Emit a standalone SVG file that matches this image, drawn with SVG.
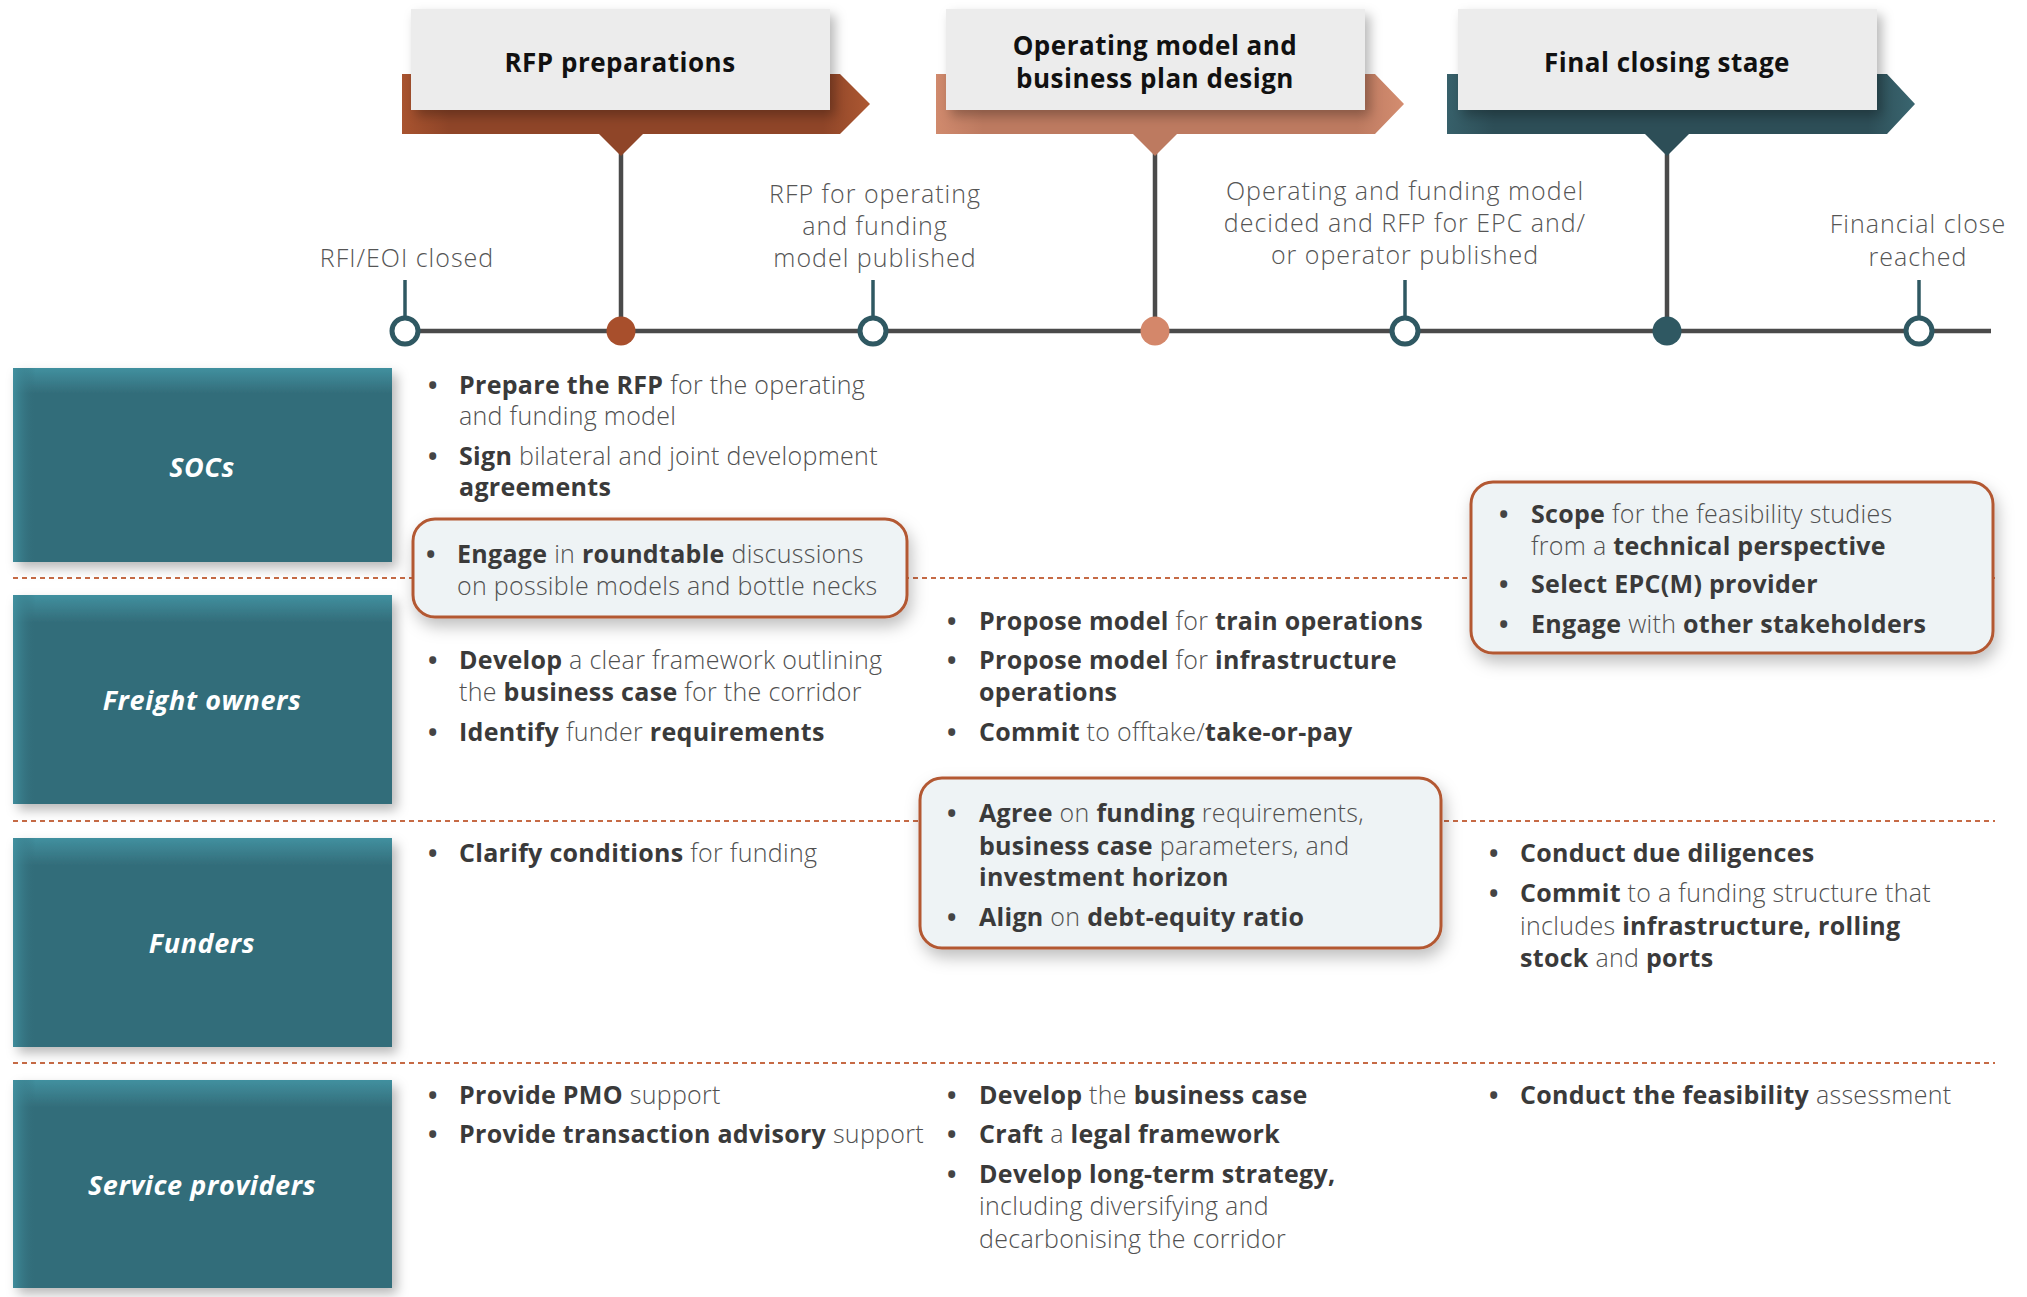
<svg xmlns="http://www.w3.org/2000/svg" width="2027" height="1297" viewBox="0 0 2027 1297">
<defs>
<filter id="sh" x="-10%" y="-10%" width="130%" height="140%"><feDropShadow dx="5" dy="6" stdDeviation="6" flood-color="#000" flood-opacity="0.28"/></filter>
<filter id="sh2" x="-10%" y="-10%" width="130%" height="140%"><feDropShadow dx="3" dy="8" stdDeviation="8" flood-color="#000" flood-opacity="0.25"/></filter>
<linearGradient id="roleG" x1="0" y1="0" x2="0" y2="1"><stop offset="0" stop-color="#41909f"/><stop offset="0.13" stop-color="#336d7a"/><stop offset="1" stop-color="#336d7a"/></linearGradient>
<linearGradient id="roleL" x1="0" y1="0" x2="1" y2="0"><stop offset="0" stop-color="#41909f" stop-opacity="0.9"/><stop offset="0.06" stop-color="#336d7a" stop-opacity="0"/><stop offset="1" stop-color="#336d7a" stop-opacity="0"/></linearGradient>
<linearGradient id="bandR" x1="0" y1="0" x2="1" y2="0"><stop offset="0" stop-color="#a8532f"/><stop offset="0.1" stop-color="#8f4528"/><stop offset="0.9" stop-color="#8f4528"/><stop offset="1" stop-color="#ad5832"/></linearGradient>
<linearGradient id="bandO" x1="0" y1="0" x2="1" y2="0"><stop offset="0" stop-color="#d08a6d"/><stop offset="0.1" stop-color="#bd7a60"/><stop offset="0.9" stop-color="#bd7a60"/><stop offset="1" stop-color="#d48d70"/></linearGradient>
<linearGradient id="bandF" x1="0" y1="0" x2="1" y2="0"><stop offset="0" stop-color="#37606a"/><stop offset="0.1" stop-color="#2d4e57"/><stop offset="0.9" stop-color="#2d4e57"/><stop offset="1" stop-color="#3a6670"/></linearGradient>
<style>
.t{font-family:"Open Sans","Liberation Sans",sans-serif;font-size:25px;font-weight:300;fill:#505050;letter-spacing:0.3px}
.b{font-weight:700;fill:#3a3a3a}
.bu{font-family:"Open Sans","Liberation Sans",sans-serif;font-size:25px;font-weight:700;fill:#444}
.ttl{font-family:"Open Sans","Liberation Sans",sans-serif;font-size:26px;font-weight:700;fill:#111;text-anchor:middle;letter-spacing:0.5px}
.lab{font-family:"Open Sans","Liberation Sans",sans-serif;font-size:27px;font-weight:700;font-style:italic;fill:#fff;text-anchor:middle;letter-spacing:0.6px}
.ml{font-family:"Open Sans","Liberation Sans",sans-serif;font-size:25px;font-weight:300;fill:#555;text-anchor:middle;letter-spacing:1px}
.gray{fill:#ececec}
.role{fill:url(#roleG)}
.hl{fill:#eef3f5;stroke:#b35833;stroke-width:3}
.sep{stroke:#c66a45;stroke-width:2;stroke-dasharray:5 4;fill:none}
.tl{stroke:#4a4a4a;stroke-width:4.5;fill:none}
.tick{stroke:#2f5862;stroke-width:3.5}
.oc{fill:#fff;stroke:#2f5862;stroke-width:5}
</style>
</defs>
<rect width="2027" height="1297" fill="#fff"/>

<g id="separators">
<line class="sep" x1="13" y1="578" x2="1995" y2="578"/>
<line class="sep" x1="13" y1="821" x2="1995" y2="821"/>
<line class="sep" x1="13" y1="1063" x2="1995" y2="1063"/>
</g>

<g id="connectors">
<line class="tl" x1="405" y1="331" x2="1991" y2="331"/>
<line class="tl" x1="621" y1="150" x2="621" y2="331"/>
<line class="tl" x1="1155" y1="150" x2="1155" y2="331"/>
<line class="tl" x1="1667" y1="150" x2="1667" y2="331"/>
<line class="tick" x1="405" y1="280" x2="405" y2="318"/>
<line class="tick" x1="873" y1="280" x2="873" y2="318"/>
<line class="tick" x1="1405" y1="280" x2="1405" y2="318"/>
<line class="tick" x1="1919" y1="280" x2="1919" y2="318"/>
</g>

<g id="phase-rfp">
<path d="M402 74 H840 L870 104 L840 134 H643 L621 156 L599 134 H402 Z" fill="url(#bandR)"/>
<rect class="gray" x="411" y="9" width="419" height="101" filter="url(#sh)"/>
<text class="ttl" x="620" y="72">RFP preparations</text>
</g>
<g id="phase-operating">
<path d="M936 74 H1375 L1404 104 L1375 134 H1177 L1155 156 L1133 134 H936 Z" fill="url(#bandO)"/>
<rect class="gray" x="946" y="9" width="419" height="101" filter="url(#sh)"/>
<text class="ttl" x="1155" y="55">Operating model and</text>
<text class="ttl" x="1155" y="88">business plan design</text>
</g>
<g id="phase-final">
<path d="M1447 74 H1887 L1915 104 L1887 134 H1689 L1667 156 L1645 134 H1447 Z" fill="url(#bandF)"/>
<rect class="gray" x="1458" y="9" width="419" height="101" filter="url(#sh)"/>
<text class="ttl" x="1667" y="72">Final closing stage</text>
</g>

<g id="milestones">
<circle class="oc" cx="405" cy="331" r="13"/>
<circle cx="621" cy="331" r="14.5" fill="#a84f2c"/>
<circle class="oc" cx="873" cy="331" r="13"/>
<circle cx="1155" cy="331" r="14.5" fill="#d4876a"/>
<circle class="oc" cx="1405" cy="331" r="13"/>
<circle cx="1667" cy="331" r="14.5" fill="#2f5862"/>
<circle class="oc" cx="1919" cy="331" r="13"/>
<text class="ml" x="407" y="267">RFI/EOI closed</text>
<text class="ml" x="875" y="203">RFP for operating</text>
<text class="ml" x="875" y="235">and funding</text>
<text class="ml" x="875" y="267">model published</text>
<text class="ml" x="1405" y="200">Operating and funding model</text>
<text class="ml" x="1405" y="232">decided and RFP for EPC and/</text>
<text class="ml" x="1405" y="264">or operator published</text>
<text class="ml" x="1918" y="233">Financial close</text>
<text class="ml" x="1918" y="266">reached</text>
</g>

<g id="role-socs">
<rect class="role" x="13" y="368" width="379" height="194" filter="url(#sh)"/>
<rect x="13" y="368" width="379" height="194" fill="url(#roleL)"/>
<text class="lab" x="202" y="477">SOCs</text>
</g>
<g id="role-freight">
<rect class="role" x="13" y="595" width="379" height="209" filter="url(#sh)"/>
<rect x="13" y="595" width="379" height="209" fill="url(#roleL)"/>
<text class="lab" x="202" y="710">Freight owners</text>
</g>
<g id="role-funders">
<rect class="role" x="13" y="838" width="379" height="209" filter="url(#sh)"/>
<rect x="13" y="838" width="379" height="209" fill="url(#roleL)"/>
<text class="lab" x="202" y="953">Funders</text>
</g>
<g id="role-service">
<rect class="role" x="13" y="1080" width="379" height="208" filter="url(#sh)"/>
<rect x="13" y="1080" width="379" height="208" fill="url(#roleL)"/>
<text class="lab" x="202" y="1195">Service providers</text>
</g>

<g id="box-engage">
<rect class="hl" x="413" y="519" width="494" height="98" rx="22" filter="url(#sh2)"/>
<text class="bu" x="426" y="563">•</text>
<text class="t" x="457" y="563"><tspan class="b">Engage</tspan> in <tspan class="b">roundtable</tspan> discussions</text>
<text class="t" x="457" y="595">on possible models and bottle necks</text>
</g>
<g id="box-scope">
<rect class="hl" x="1471" y="482" width="522" height="171" rx="22" filter="url(#sh2)"/>
<text class="bu" x="1499" y="523">•</text>
<text class="t" x="1531" y="523"><tspan class="b">Scope</tspan> for the feasibility studies</text>
<text class="t" x="1531" y="555">from a <tspan class="b">technical perspective</tspan></text>
<text class="bu" x="1499" y="593">•</text>
<text class="t" x="1531" y="593"><tspan class="b">Select EPC(M) provider</tspan></text>
<text class="bu" x="1499" y="633">•</text>
<text class="t" x="1531" y="633"><tspan class="b">Engage</tspan> with <tspan class="b">other stakeholders</tspan></text>
</g>
<g id="box-agree">
<rect class="hl" x="920" y="778" width="521" height="170" rx="22" filter="url(#sh2)"/>
<text class="bu" x="947" y="822">•</text>
<text class="t" x="979" y="822"><tspan class="b">Agree</tspan> on <tspan class="b">funding</tspan> requirements,</text>
<text class="t" x="979" y="855"><tspan class="b">business case</tspan> parameters, and</text>
<text class="t" x="979" y="886"><tspan class="b">investment horizon</tspan></text>
<text class="bu" x="947" y="926">•</text>
<text class="t" x="979" y="926"><tspan class="b">Align</tspan> on <tspan class="b">debt-equity ratio</tspan></text>
</g>

<g id="socs-rfp">
<text class="bu" x="428" y="394">•</text>
<text class="t" x="459" y="394"><tspan class="b">Prepare the RFP</tspan> for the operating</text>
<text class="t" x="459" y="425">and funding model</text>
<text class="bu" x="428" y="465">•</text>
<text class="t" x="459" y="465"><tspan class="b">Sign</tspan> bilateral and joint development</text>
<text class="t" x="459" y="496"><tspan class="b">agreements</tspan></text>
</g>
<g id="freight-rfp">
<text class="bu" x="428" y="669">•</text>
<text class="t" x="459" y="669"><tspan class="b">Develop</tspan> a clear framework outlining</text>
<text class="t" x="459" y="701">the <tspan class="b">business case</tspan> for the corridor</text>
<text class="bu" x="428" y="741">•</text>
<text class="t" x="459" y="741"><tspan class="b">Identify</tspan> funder <tspan class="b">requirements</tspan></text>
</g>
<g id="freight-operating">
<text class="bu" x="947" y="630">•</text>
<text class="t" x="979" y="630"><tspan class="b">Propose model</tspan> for <tspan class="b">train operations</tspan></text>
<text class="bu" x="947" y="669">•</text>
<text class="t" x="979" y="669"><tspan class="b">Propose model</tspan> for <tspan class="b">infrastructure</tspan></text>
<text class="t" x="979" y="701"><tspan class="b">operations</tspan></text>
<text class="bu" x="947" y="741">•</text>
<text class="t" x="979" y="741"><tspan class="b">Commit</tspan> to offtake/<tspan class="b">take-or-pay</tspan></text>
</g>
<g id="funders-rfp">
<text class="bu" x="428" y="862">•</text>
<text class="t" x="459" y="862"><tspan class="b">Clarify conditions</tspan> for funding</text>
</g>
<g id="funders-final">
<text class="bu" x="1489" y="862">•</text>
<text class="t" x="1520" y="862"><tspan class="b">Conduct due diligences</tspan></text>
<text class="bu" x="1489" y="902">•</text>
<text class="t" x="1520" y="902"><tspan class="b">Commit</tspan> to a funding structure that</text>
<text class="t" x="1520" y="935">includes <tspan class="b">infrastructure, rolling</tspan></text>
<text class="t" x="1520" y="967"><tspan class="b">stock</tspan> and <tspan class="b">ports</tspan></text>
</g>
<g id="service-rfp">
<text class="bu" x="428" y="1104">•</text>
<text class="t" x="459" y="1104"><tspan class="b">Provide PMO</tspan> support</text>
<text class="bu" x="428" y="1143">•</text>
<text class="t" x="459" y="1143"><tspan class="b">Provide transaction advisory</tspan> support</text>
</g>
<g id="service-operating">
<text class="bu" x="947" y="1104">•</text>
<text class="t" x="979" y="1104"><tspan class="b">Develop</tspan> the <tspan class="b">business case</tspan></text>
<text class="bu" x="947" y="1143">•</text>
<text class="t" x="979" y="1143"><tspan class="b">Craft</tspan> a <tspan class="b">legal framework</tspan></text>
<text class="bu" x="947" y="1183">•</text>
<text class="t" x="979" y="1183"><tspan class="b">Develop long-term strategy,</tspan></text>
<text class="t" x="979" y="1215">including diversifying and</text>
<text class="t" x="979" y="1248">decarbonising the corridor</text>
</g>
<g id="service-final">
<text class="bu" x="1489" y="1104">•</text>
<text class="t" x="1520" y="1104"><tspan class="b">Conduct the feasibility</tspan> assessment</text>
</g>
</svg>
